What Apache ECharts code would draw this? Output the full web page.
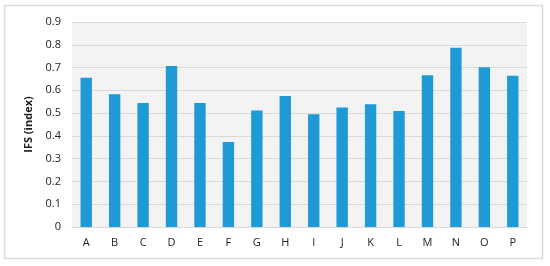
<!DOCTYPE html>
<html>
<head>
<meta charset="utf-8">
<script src="https://cdn.jsdelivr.net/npm/echarts@6/dist/echarts.min.js"></script>
<style>html,body{margin:0;padding:0;background:#fff;}#c{width:550px;height:266px;}</style>
</head>
<body>
<div id="c"></div>
<script>
var categories = ['A','B','C','D','E','F','G','H','I','J','K','L','M','N','O','P'];
var ifsValues = [0.655,0.583,0.544,0.707,0.544,0.373,0.511,0.575,0.495,0.525,0.539,0.509,0.666,0.787,0.701,0.664];
var yTicks = {min:0, max:0.9, interval:0.1};
var chart = echarts.init(document.getElementById('c'), null, {renderer:'canvas'});
chart.setOption({
  animation:false,
  backgroundColor:'#fff',
  graphic:[{type:'rect', shape:{x:4.5,y:5.5,width:538,height:253}, style:{fill:'none', stroke:'#dcdcdc', lineWidth:1.5}, silent:true}],
  grid:{left:72, right:23, top:22, bottom:39, show:true, backgroundColor:'#f3f3f3', borderWidth:0},
  xAxis:{type:'category', data:categories,
    axisLine:{lineStyle:{color:'#d9d9d9'}}, axisTick:{show:false},
    axisLabel:{color:'#222', fontFamily:'Open Sans', fontSize:11, margin:10}},
  yAxis:{type:'value', min:yTicks.min, max:yTicks.max, interval:yTicks.interval,
    name:'IFS (index)', nameLocation:'middle', nameGap:34,
    nameTextStyle:{fontFamily:'Open Sans', fontWeight:'bold', fontSize:11, color:'#222'},
    axisLine:{show:false}, axisTick:{show:false},
    splitLine:{lineStyle:{color:'#d9d9d9', width:1}},
    axisLabel:{color:'#222', fontFamily:'Open Sans', fontSize:11, margin:11,
      formatter:function(v){return v===0?'0':v.toFixed(1);}}},
  series:[{type:'bar', data:ifsValues, barWidth:'40%', itemStyle:{color:'#1e9ad6'}}]
});
</script>
</body>
</html>
